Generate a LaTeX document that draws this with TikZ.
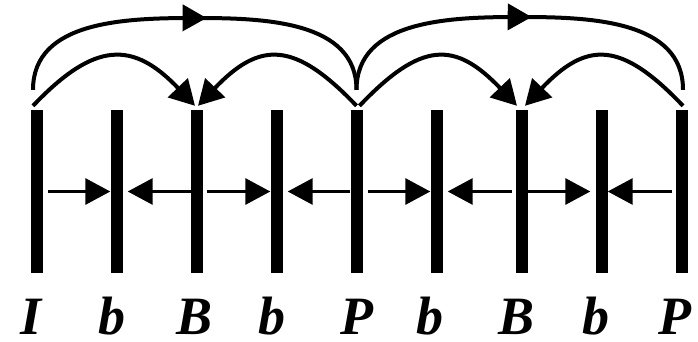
\documentclass[tikz,border=0pt]{standalone}
\usepackage{fontspec}
\setmainfont{Liberation Serif}
\usetikzlibrary{arrows.meta,calc,positioning,decorations.markings}

\begin{document}
\begin{tikzpicture}[x=1pt,y=1pt,
  frame/.style={fill=black,inner sep=0pt,minimum width=12pt,minimum height=163pt},
  ftype/.style={anchor=base,inner sep=0pt,text depth=0pt,font=\fontsize{54}{54}\selectfont\bfseries\itshape},
  pred/.style={line width=3pt,-{Triangle[length=25pt,width=26pt]}},
  jump/.style={line width=4pt,-{Triangle[length=25pt,width=27pt]}},
  longjump/.style={line width=4pt,postaction={decorate},
    decoration={markings,mark=at position 0.53 with {\arrow{Triangle[length=24pt,width=26pt]}}}}]
  \useasboundingbox (0,0) rectangle (698,341);
  % frames of the group of pictures
  \node[frame] (f1) at (37,149.5) {};
  \node[frame] (f2) at (116.5,149.5) {};
  \node[frame] (f3) at (197,149.5) {};
  \node[frame] (f4) at (276.5,149.5) {};
  \node[frame] (f5) at (356.5,149.5) {};
  \node[frame] (f6) at (436.5,149.5) {};
  \node[frame] (f7) at (522,149.5) {};
  \node[frame] (f8) at (601.5,149.5) {};
  \node[frame] (f9) at (681.5,149.5) {};
  \node[ftype] (t1) at (31,7) {I};
  \node[ftype] (t2) at (112,7) {b};
  \node[ftype] (t3) at (195,7) {B};
  \node[ftype] (t4) at (272,7) {b};
  \node[ftype] (t5) at (357,7) {P};
  \node[ftype] (t6) at (430,7) {b};
  \node[ftype] (t7) at (517,7) {B};
  \node[ftype] (t8) at (596,7) {b};
  \node[ftype] (t9) at (675,7) {P};
  % prediction of the b frames
  \draw[pred] ([xshift=5pt]f1.east) -- (f2.west);
  \draw[pred] (f3.west) -- ([xshift=5pt]f2.east);
  \draw[pred] ([xshift=4pt]f3.east) -- (f4.west);
  \draw[pred] (f5.west) -- ([xshift=5pt]f4.east);
  \draw[pred] ([xshift=5pt]f5.east) -- (f6.west);
  \draw[pred] ([xshift=-4pt]f7.west) -- ([xshift=5pt]f6.east);
  \draw[pred] (f7.east) -- ([xshift=-5pt]f8.west);
  \draw[pred] ([xshift=-3pt]f9.west) -- (f8.east);
  % prediction of the B frames
  \draw[jump] ($(f1.north)+(-4,4)$) .. controls +(62,65) and +(-62,65) .. ($(f3.north)+(-2,4)$);
  \draw[jump] ($(f5.north)+(0,4)$) .. controls +(-62,65) and +(62,65) .. ($(f3.north)+(1,4)$);
  \draw[jump] ($(f5.north)+(3,4)$) .. controls +(62,65) and +(-62,65) .. ($(f7.north)+(-5,4)$);
  \draw[jump] ($(f9.north)+(1.5,4)$) .. controls +(-62,65) and +(62,65) .. ($(f7.north)+(3,4)$);
  % prediction of the P frames
  \coordinate (m1) at (196,323);
  \coordinate (m2) at (520,324);
  \draw[longjump] ($(f1.north)+(-4,20)$) to[out=90,in=180] (m1) to[out=0,in=90] ($(f5.north)+(0,20)$);
  \draw[longjump] ($(f5.north)+(0,20)$) to[out=90,in=180] (m2) to[out=0,in=90] ($(f9.north)+(1.5,20)$);
\end{tikzpicture}
\end{document}
